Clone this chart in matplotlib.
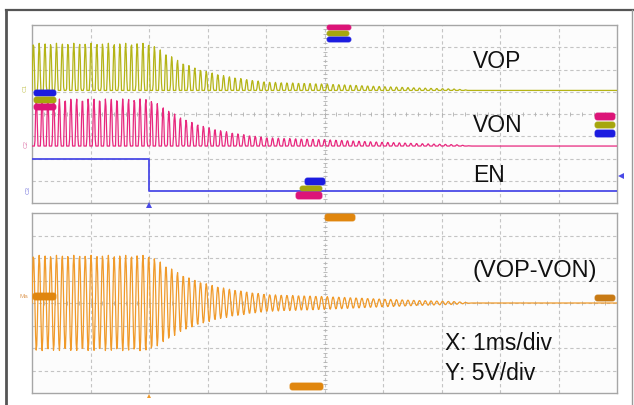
import numpy as np
import matplotlib
matplotlib.use("Agg")
import matplotlib.pyplot as plt
from matplotlib.patches import FancyBboxPatch, Polygon
from matplotlib.lines import Line2D

plt.rcParams['font.family'] = ['Liberation Sans', 'DejaVu Sans']

# ---- scope settings -------------------------------------------------------
ms_per_div = 1.0
volts_per_div = 5.0
n_xdiv, n_ydiv = 10, 8

# ---- burst envelope: peak output amplitude (V), read every 0.25 ms -------
env_time_ms = [i * 0.25 for i in range(41)]
env_peak_v = [10.6, 10.6, 10.6, 10.6, 10.6, 10.6, 10.6, 10.6, 10.6,   # 0 .. 2.0 ms
              8.7, 6.7, 5.2, 4.2, 3.4, 2.8, 2.3, 1.9,                  # 2.25 .. 4.0
              1.75, 1.65, 1.55, 1.45, 1.3, 1.15, 1.0, 0.85,            # 4.25 .. 6.0
              0.75, 0.6, 0.5, 0.4, 0.3, 0.0,                           # 6.25 .. 7.5
              0, 0, 0, 0, 0, 0, 0, 0, 0, 0]                            # 7.75 .. 10

carrier_period_ms = 0.0985     # output tone period
sample_step_ms = 0.0102        # acquisition sample interval

# enable line
en_time_ms = [0.0, 2.0, 2.0, 10.0]
en_level_v = [7.35, 7.35, 0.0, 0.0]

# channel offsets (divisions from bottom of each grid)
vop_offset_div = 5.06
von_offset_div = 2.56
en_offset_div = 0.52
diff_offset_div = 4.0

c_vop = '#b4b416'
c_von = '#e8287e'
c_en = '#4a4ae6'
c_diff = '#f09a2a'
c_grid = '#c4c4c4'

W, H = 634, 405
fig = plt.figure(figsize=(W / 100, H / 100), dpi=100)
fig.patch.set_facecolor('white')


def frac_box(x0, y0, x1, y1):
    return [x0 / W, 1 - y1 / H, (x1 - x0) / W, (y1 - y0) / H]


ax_top = fig.add_axes(frac_box(32, 25, 617, 203))
ax_bot = fig.add_axes(frac_box(32, 213, 617, 393))

for ax in (ax_top, ax_bot):
    ax.set_xlim(0, n_xdiv)
    ax.set_ylim(0, n_ydiv)
    ax.set_facecolor('#fcfcfc')
    ax.set_xticks([])
    ax.set_yticks([])
    for s in ax.spines.values():
        s.set_color('#a6a6a6')
        s.set_linewidth(1.0)
    for i in range(1, n_xdiv):
        ax.axvline(i, color=c_grid, lw=0.8, ls=(0, (3, 2.5)), zorder=0)
    for j in range(1, n_ydiv):
        ax.axhline(j, color=c_grid, lw=0.8, ls=(0, (3, 2.5)), zorder=0)
    # minor ticks on the centre cross
    mx = np.arange(0, n_xdiv, 0.2)
    ax.scatter(mx, np.full_like(mx, n_ydiv / 2), marker='|', s=6, color='#b0b0b0', lw=0.6, zorder=0)
    my = np.arange(0, n_ydiv, 0.2)
    ax.scatter(np.full_like(my, n_xdiv / 2), my, marker='_', s=6, color='#b0b0b0', lw=0.6, zorder=0)

# ---- waveforms -------------------------------------------------------------
t = np.arange(0, 10.0 + 1e-9, sample_step_ms)
env = np.interp(t, env_time_ms, env_peak_v)
carrier = np.sin(2 * np.pi * t / carrier_period_ms)
vop = env * np.clip(carrier, 0, None)
von = env * np.clip(-carrier, 0, None)
vdiff = vop - von

ax_top.plot(t / ms_per_div, vop_offset_div + vop / volts_per_div, color=c_vop, lw=0.9, zorder=3)
ax_top.plot(t / ms_per_div, von_offset_div + von / volts_per_div, color=c_von, lw=0.9, zorder=3)
ax_top.plot(np.array(en_time_ms) / ms_per_div, en_offset_div + np.array(en_level_v) / volts_per_div,
            color=c_en, lw=1.3, zorder=3)
ax_bot.plot(t / ms_per_div, diff_offset_div + vdiff / volts_per_div, color=c_diff, lw=0.9, zorder=3)

# ---- overlay in pixel units for labels and scope markers -------------------
ov = fig.add_axes([0, 0, 1, 1], zorder=10)
ov.set_xlim(0, W)
ov.set_ylim(H, 0)
ov.axis('off')
ov.patch.set_alpha(0)

# outer frame
ov.add_line(Line2D([5.5, 5.5], [9.5, H], color='#555555', lw=2.0))
ov.add_line(Line2D([5.5, 633], [9.5, 9.5], color='#555555', lw=1.6))
ov.add_line(Line2D([632, 632], [9.5, H], color='#9a9a9a', lw=1.0))

txt = dict(fontsize=16.5, color='#111111', va='center', ha='left')
ov.text(473, 62, 'VOP', **txt)
ov.text(473, 125, 'VON', **txt)
ov.text(473, 176, 'EN', **txt)
ov.text(472, 271, '(VOP-VON)', fontsize=17, color='#111111', va='center', ha='left')
ov.text(445, 343, 'X: 1ms/div', **txt)
ov.text(445, 373, 'Y: 5V/div', **txt)


def badge(x0, y0, x1, y1, color):
    ov.add_patch(FancyBboxPatch((x0, y0), x1 - x0, y1 - y0,
                                boxstyle='round,pad=0,rounding_size=2.5',
                                fc=color, ec=color, lw=0.6))


b_blue, b_olive, b_mag, b_org = '#1c1ce0', '#a6a60e', '#dc1478', '#e0860e'
# left reference markers
badge(34, 90, 56, 96, b_blue)
badge(34, 97, 56, 103, b_olive)
badge(34, 104, 56, 110, b_mag)
# centre markers
badge(327, 25, 351, 30, b_mag)
badge(327, 31, 349, 36, b_olive)
badge(327, 37, 351, 42, b_blue)
# lower markers
badge(305, 178, 325, 185, b_blue)
badge(300, 186, 322, 191, b_olive)
badge(296, 192, 322, 199, b_mag)
# right markers
badge(595, 113, 615, 120, b_mag)
badge(595, 122, 615, 128, b_olive)
badge(595, 130, 615, 137, b_blue)
# math trace markers
badge(325, 214, 355, 221, b_org)
badge(33, 293, 56, 300, b_org)
badge(290, 383, 323, 390, b_org)
badge(595, 295, 615, 301, '#c87a14')

# channel tags
small = dict(fontsize=4.5, rotation=90, va='center', ha='center')
ov.text(25, 88, 'C1', color='#c8c860', **small)
ov.text(26, 144, 'C2', color='#e080b0', **small)
ov.text(28, 190, 'C3', color='#8080e0', **small)
ov.text(24, 296, 'Ma', color='#e0a060', fontsize=4.5, va='center', ha='center')

# trigger markers
ov.add_patch(Polygon([[146, 208], [152, 208], [149, 202]], closed=True, fc=c_en, ec='none'))
ov.add_patch(Polygon([[147, 398], [151, 398], [149, 394]], closed=True, fc=c_diff, ec='none'))
ov.add_patch(Polygon([[618, 176], [624, 173], [624, 179]], closed=True, fc=c_en, ec='none'))

fig.savefig('out.png', dpi=100, facecolor='white')
